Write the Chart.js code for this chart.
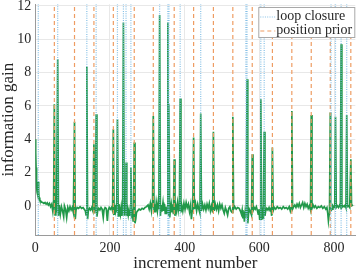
<!DOCTYPE html>
<html><head><meta charset="utf-8">
<script src="https://cdn.jsdelivr.net/npm/chart.js@4/dist/chart.umd.min.js"></script>
<style>html,body{margin:0;padding:0;background:#fff}#wrap{position:relative;width:357px;height:272px}</style>
</head><body><div id="wrap"><canvas id="c"></canvas></div>
<script>
// increment numbers and information gain
const increments = [0,1,2,3,4,5,6,8,9,10,12,14,17,20,23,26,29,32,35,38,41,44,47,49,51,53,55,57,60,62,64,67,70,73,76,78,81,84,87,90,93,96,99,102,105,107,109,112,116,120,124,128,131,134,136,138,140,142,145,148,151,154,157,159,161,163,165,167,170,173,176,179,182,184,187,190,193,195,198,201,204,207,209,211,213,215,217,218,220,222,224,226,228,230,232,234,236,238,240,242,243,245,247,249,251,253,254,256,258,260,262,263,265,267,269,271,274,278,282,286,290,294,298,302,305,308,311,313,314,316,318,320,322,324,327,329,331,333,335,337,339,342,344,346,348,350,352,353,355,356,357,358,360,362,364,366,368,370,372,374,376,378,381,383,385,386,388,390,392,395,398,401,404,407,410,413,416,418,420,422,424,426,429,432,435,438,441,443,445,448,451,454,457,460,463,466,469,472,475,477,479,482,485,488,491,494,497,500,503,506,509,512,515,518,521,524,527,529,531,534,538,542,546,549,552,554,556,558,560,562,564,565,567,569,571,573,576,579,581,583,586,589,592,595,597,599,601,602,604,606,608,610,611,613,615,617,620,623,626,629,631,633,635,637,640,644,648,652,656,660,664,668,672,676,680,683,685,687,689,692,695,698,701,704,707,710,713,716,719,722,725,728,731,734,737,739,741,744,747,750,754,758,762,766,770,774,778,781,783,785,787,788,790,791,795,797,800,802,804,806,809,812,815,817,819,821,824,827,830,832,834,836,839,842,845,847,851];
const gains = [4.0,3.2,2.3,1.6,1.1,0.8,0.7,1.45,0.9,0.5,0.35,0.3,0.22,0.2,0.15,0.2,0.1,0.18,0.05,0.15,-0.05,0.1,-0.35,0.05,6.1,-0.55,0.05,-0.4,8.8,-0.6,0.05,-0.5,-0.05,-0.3,-0.65,0.0,-0.2,-0.7,-0.1,-0.3,-0.05,-0.25,-0.1,-0.4,5.05,-0.8,-0.25,-0.1,-0.15,-0.05,-0.15,-0.1,-0.2,-0.3,-0.55,8.35,-0.8,-0.3,-0.15,-0.25,-0.1,-0.3,3.7,-0.45,-0.2,5.5,-0.65,-0.3,-0.15,-0.25,-0.1,-0.2,-0.7,-0.25,-0.1,-0.15,-0.9,-0.3,-0.1,-0.2,-0.1,-0.3,4.6,-0.5,0.05,-0.3,0.0,-0.4,5.2,-0.6,0.1,-0.2,-0.5,-0.1,-0.6,-0.2,11.0,-0.55,-0.15,-0.4,2.6,-0.6,-0.2,-0.55,-0.25,-0.6,-0.3,2.3,-0.55,-0.4,-0.9,-0.6,3.8,-1.05,-0.8,-0.4,-0.3,-0.2,-0.25,-0.15,-0.2,-0.1,-0.05,0.05,-0.2,0.15,-0.3,0.2,-0.1,5.4,-0.35,0.1,-0.4,0.2,-0.3,0.15,-0.2,11.45,-0.6,0.05,-0.35,0.2,-0.3,0.1,-0.45,-0.05,-0.5,-0.2,11.0,0.0,-0.6,6.1,-0.7,-0.2,0.1,-0.4,0.05,-0.5,2.8,-0.6,0.0,-0.3,0.2,-0.25,0.1,-0.3,6.45,-0.4,0.05,-0.3,0.15,-0.2,0.2,-0.1,0.1,-0.35,0.05,-0.8,-0.3,0.1,4.1,-0.2,0.15,-0.3,0.1,-0.2,-0.45,5.55,-0.3,0.1,-0.2,0.05,-0.25,0.1,-0.15,0.15,-0.3,0.0,-0.4,4.45,-0.3,0.1,-0.2,0.05,-0.3,0.1,-0.15,0.05,-0.25,-0.45,-0.1,-0.3,-0.55,-0.15,-0.05,-0.3,-0.4,5.35,-0.2,-0.05,-0.2,-0.1,-0.15,-0.3,-0.5,-0.25,-0.75,-0.35,-0.95,-0.4,-0.7,-0.3,7.6,-1.05,-0.5,-0.2,-0.35,-0.55,3.1,-0.3,-0.1,-0.2,-0.05,-0.3,-0.5,-0.2,-0.85,-0.5,6.4,-0.85,-0.4,-0.75,-0.5,4.45,-0.6,-0.3,-0.15,-0.25,-0.1,-0.3,-0.1,-0.6,3.5,-0.3,-0.1,-0.2,-0.05,-0.15,-0.1,-0.2,-0.05,-0.15,-0.1,-0.2,-0.05,-0.3,-0.1,5.7,-0.2,-0.05,0.05,-0.1,0.1,-0.05,0.15,-0.1,0.05,0.2,-0.1,0.15,-0.05,0.1,-0.15,0.0,-0.25,5.45,-0.15,0.05,-0.1,0.0,-0.15,-0.05,-0.1,0.0,-0.15,-0.05,-0.2,-0.1,-0.4,-0.9,-0.5,-0.2,5.6,-0.3,-0.2,0.0,-0.1,0.05,5.35,-0.1,0.0,-0.1,0.05,-0.05,9.7,-0.1,0.0,-0.05,0.05,-0.1,5.45,-0.05,0.0,-0.1,2.8,0.0,0.05];
const loopClosures = [8,60,138,163,220,236,243,256,333,355,358,388,443,564,567,604,613,792,804,819,834];
const positionPriors = [51,105,157,209,265,316,372,424,477,529,581,635,687,739,790,845];
const xTicks = [0,200,400,600,800];
const yTicks = [0,2,4,6,8,10,12];
const X_MIN = 0, X_MAX = 857, Y_MIN = -1.75, Y_MAX = 12.1;

function vlines(arr){
  const out = [];
  arr.forEach(u => { out.push({x:u,y:Y_MIN},{x:u,y:Y_MAX},{x:u,y:null}); });
  return out;
}
const gainPoints = increments.map((u,i)=>({x:u,y:gains[i]}));

const FONT = "'Liberation Serif', 'Times New Roman', serif";
const TXT = '#262626';

const legendBox = {
  id: 'legendBox',
  afterDraw(chart){
    const ctx = chart.ctx, ca = chart.chartArea;
    const items = chart.data.datasets.filter(d => d.inLegend);
    const x1 = ca.right, x0 = x1 - 97, y0 = 7, h = 31;
    ctx.save();
    ctx.fillStyle = '#fff';
    ctx.fillRect(x0, y0, x1 - x0, h);
    ctx.strokeStyle = '#a8a8a8'; ctx.lineWidth = 1; ctx.setLineDash([]);
    ctx.strokeRect(x0 + 0.5, y0 + 0.5, x1 - x0 - 1, h - 1);
    items.forEach((d, i) => {
      const cy = y0 + 10 + i * 14;
      ctx.beginPath();
      ctx.strokeStyle = d.borderColor; ctx.lineWidth = d.borderWidth;
      ctx.setLineDash(d.borderDash || []);
      ctx.moveTo(x0 + 2, cy); ctx.lineTo(x0 + 17, cy); ctx.stroke();
      ctx.setLineDash([]);
      ctx.fillStyle = TXT; ctx.font = "14px " + FONT; ctx.textBaseline = 'alphabetic'; ctx.textAlign = 'left';
      ctx.fillText(d.label, x0 + 18, cy + 3.4);
    });
    ctx.restore();
  }
};

new Chart(document.getElementById('c'), {
  type: 'line',
  data: {
    datasets: [
      { label: 'loop closure', inLegend: true, data: vlines(loopClosures), borderColor: '#86c0e6', borderWidth: 1.2, borderDash: [1, 1.3], pointRadius: 0, spanGaps: false, order: 0 },
      { label: 'position prior', inLegend: true, data: vlines(positionPriors), borderColor: '#ee9c62', borderWidth: 1.2, borderDash: [4, 3], pointRadius: 0, spanGaps: false, order: 1 },
      { label: 'information gain', data: gainPoints, borderColor: '#22994a', borderWidth: 1.7, pointRadius: 0, tension: 0, order: 2 }
    ]
  },
  options: {
    responsive: true, maintainAspectRatio: false, animation: false,
    parsing: true,
    layout: { padding: { top: 4.3, right: 1.7, left: 0, bottom: 0 } },
    plugins: { legend: { display: false }, tooltip: { enabled: false } },
    scales: {
      x: {
        type: 'linear', min: X_MIN, max: X_MAX,
        afterBuildTicks: s => { s.ticks = xTicks.map(v => ({value: v})); },
        afterFit: s => { s.height = 37; s.paddingLeft = 0; s.paddingRight = 0; },
        grid: { color: '#e8e8e8', lineWidth: 1, drawTicks: false },
        border: { display: true, color: '#9a9a9a', width: 1 },
        ticks: { color: TXT, font: { family: FONT, size: 14 }, padding: 5, maxRotation: 0, autoSkip: false },
        title: { display: true, text: 'increment number', color: TXT, font: { family: FONT, size: 17, lineHeight: 0.95 }, padding: { top: 0, bottom: 0 } }
      },
      y: {
        type: 'linear', min: Y_MIN, max: Y_MAX,
        afterBuildTicks: s => { s.ticks = yTicks.map(v => ({value: v})); },
        afterFit: s => { s.width = 35.3; s.paddingTop = 0; s.paddingBottom = 0; },
        grid: { color: '#e8e8e8', lineWidth: 1, drawTicks: false },
        border: { display: true, color: '#9a9a9a', width: 1 },
        ticks: { color: TXT, font: { family: FONT, size: 14 }, padding: 4, autoSkip: false },
        title: { display: true, text: 'information gain', color: TXT, font: { family: FONT, size: 17, lineHeight: 1 }, padding: { top: 0, bottom: 0 } }
      }
    }
  },
  plugins: [legendBox]
});
</script>
</body></html>
